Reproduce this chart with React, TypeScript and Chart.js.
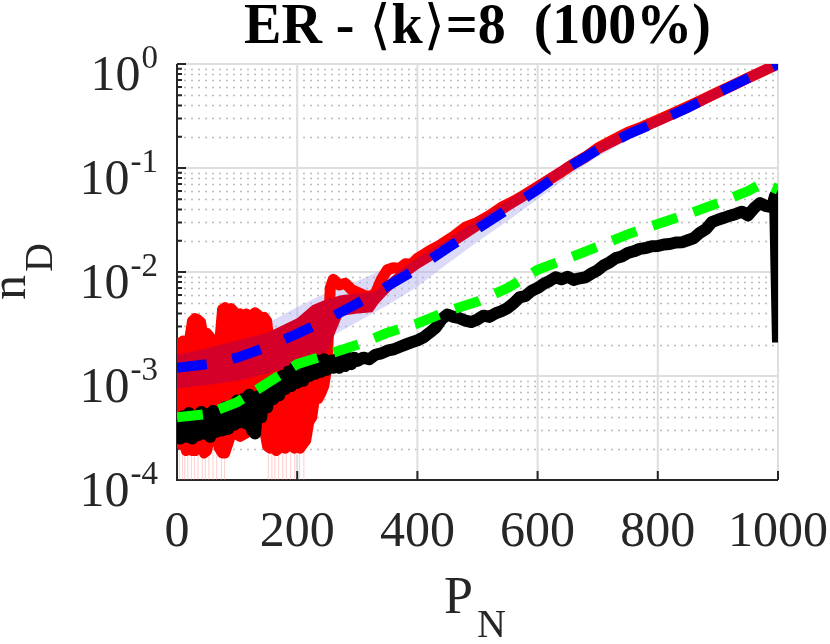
import { useEffect, useRef } from "react";
import { Chart, registerables } from "chart.js";

Chart.register(...registerables);

const SERIF = "'Liberation Serif', 'Times New Roman', serif";
const TEXT = "#262626";

const titleParts = [
  { t: "ER - ", bracket: false },
  { t: "\u27E8", bracket: true },
  { t: "k", bracket: false },
  { t: "\u27E9", bracket: true },
  { t: "=8  (100%)", bracket: false },
];
const xTicks = [0, 200, 400, 600, 800, 1000];
const yTickExps = [-4, -3, -2, -1, 0];
const minorSteps = [2, 3, 4, 5, 6, 7, 8, 9];

// theory curve (blue dashed) and its shaded spread
const pSmooth = [0, 50, 100, 150, 200, 250, 300, 350, 400, 450, 500, 550, 600, 650, 700, 750, 800, 850, 900, 950, 1000];
const blueTheory = [1.2e-3, 1.3e-3, 1.5e-3, 1.9e-3, 2.55e-3, 3.5e-3, 5.0e-3, 7.3e-3, 1.08e-2, 1.7e-2, 2.6e-2, 4.0e-2, 6.2e-2, 0.1, 0.15, 0.21, 0.28, 0.38, 0.53, 0.73, 1.0];
const bandHi = [1.8e-3, 2.0e-3, 2.4e-3, 3.2e-3, 4.6e-3, 6.4e-3, 8.2e-3, 1.1e-2, 1.5e-2, 2.2e-2, 3.2e-2, 4.8e-2, 7.2e-2, 0.113, 0.168, 0.232, 0.305, 0.41, 0.56, 0.76, 1.02];
const bandLo = [8.0e-4, 8.7e-4, 1.0e-3, 1.27e-3, 1.7e-3, 2.3e-3, 3.3e-3, 4.8e-3, 7.2e-3, 1.2e-2, 1.95e-2, 3.1e-2, 5.0e-2, 8.3e-2, 0.128, 0.185, 0.25, 0.345, 0.49, 0.69, 0.97];

// green dashed curve
const pGreen = [0, 50, 100, 150, 200, 250, 300, 350, 400, 450, 500, 550, 600, 650, 700, 750, 800, 850, 900, 950, 975, 1000];
const greenVals = [4.0e-4, 4.3e-4, 5.6e-4, 8.5e-4, 1.3e-3, 1.6e-3, 2.0e-3, 2.6e-3, 3.2e-3, 4.2e-3, 5.2e-3, 7.0e-3, 1.05e-2, 1.35e-2, 1.75e-2, 2.3e-2, 2.9e-2, 3.6e-2, 4.6e-2, 6.0e-2, 7.2e-2, 6.2e-2];

// black run
const pBlack = [
  0, 5, 10, 15, 20, 25, 30, 35, 40, 45, 50, 55, 60, 65, 70, 75, 80, 85, 90, 95,
  100, 105, 110, 115, 120, 125, 130, 135, 140, 145, 150, 155, 160, 165, 170, 175, 180, 185, 190, 195,
  200, 205, 210, 215, 220, 225, 230, 235, 240, 245, 250, 255, 260, 265, 270, 275, 280, 285, 290, 295,
  300, 310, 320, 330, 340, 350, 360, 370, 380, 390,
  400, 410, 420, 430, 440, 450, 460, 470, 480, 490,
  500, 510, 520, 530, 540, 550, 560, 570, 580, 590,
  600, 610, 620, 630, 640, 650, 660, 670, 680, 690,
  700, 710, 720, 730, 740, 750, 760, 770, 780, 790,
  800, 810, 820, 830, 840, 850, 860, 870, 880, 890,
  900, 910, 920, 930, 940, 950, 960, 970, 980, 990,
  995, 1000,
];
const blackVals = [
  4.3e-4, 2.5e-4, 4.1e-4, 2.6e-4, 4.4e-4, 2.5e-4, 4.0e-4, 2.7e-4, 4.5e-4, 2.8e-4,
  4.3e-4, 2.6e-4, 4.6e-4, 2.9e-4, 4.4e-4, 3.0e-4, 5.0e-4, 3.1e-4, 5.2e-4, 3.4e-4,
  5.8e-4, 3.6e-4, 6.0e-4, 3.5e-4, 6.6e-4, 3.0e-4, 2.8e-4, 6.4e-4, 4.0e-4, 6.8e-4,
  5.0e-4, 8.0e-4, 6.0e-4, 9.2e-4, 6.5e-4, 1.0e-3, 7.5e-4, 1.1e-3, 8.0e-4, 1.2e-3,
  8.6e-4, 1.25e-3, 9.0e-4, 1.3e-3, 1.0e-3, 1.35e-3, 1.05e-3, 1.4e-3, 1.1e-3, 1.45e-3,
  1.15e-3, 1.4e-3, 1.2e-3, 1.45e-3, 1.2e-3, 1.45e-3, 1.25e-3, 1.5e-3, 1.3e-3, 1.5e-3,
  1.4e-3, 1.5e-3, 1.45e-3, 1.6e-3, 1.65e-3, 1.75e-3, 1.8e-3, 1.9e-3, 2.0e-3, 2.1e-3,
  2.2e-3, 2.35e-3, 2.6e-3, 2.9e-3, 3.5e-3, 3.9e-3, 3.7e-3, 3.6e-3, 3.4e-3, 3.3e-3,
  3.5e-3, 3.8e-3, 3.7e-3, 4.0e-3, 4.2e-3, 4.5e-3, 5.0e-3, 5.7e-3, 5.9e-3, 6.6e-3,
  7.0e-3, 7.7e-3, 8.2e-3, 8.9e-3, 8.5e-3, 9.0e-3, 8.4e-3, 8.7e-3, 8.9e-3, 9.7e-3,
  1.04e-2, 1.16e-2, 1.24e-2, 1.36e-2, 1.41e-2, 1.52e-2, 1.58e-2, 1.67e-2, 1.7e-2, 1.77e-2,
  1.78e-2, 1.84e-2, 1.86e-2, 1.92e-2, 1.93e-2, 2.02e-2, 2.12e-2, 2.38e-2, 2.58e-2, 3.02e-2,
  3.18e-2, 3.32e-2, 3.48e-2, 3.62e-2, 3.8e-2, 3.5e-2, 4.1e-2, 4.6e-2, 4.3e-2, 4.2e-2,
  5.4e-2, 2.1e-3,
];

// red single run: at small P_N it fluctuates between these upper and lower limits
const pRedNoisy = [
  0, 5, 10, 15, 20, 25, 30, 35, 40, 45, 50, 55, 60, 65, 70, 75, 80, 85, 90, 95,
  100, 105, 110, 115, 120, 125, 130, 135, 140, 145, 150, 155, 160, 165, 170, 175, 180, 185, 190, 195,
  200, 205, 210, 215, 220, 225, 230, 235, 240, 245, 250,
];
const redUpper = [
  2.1e-3, 2.0e-3, 2.2e-3, 2.0e-3, 2.2e-3, 3.4e-3, 3.6e-3, 3.5e-3, 3.3e-3, 2.2e-3,
  2.6e-3, 2.4e-3, 1.9e-3, 1.8e-3, 2.0e-3, 4.4e-3, 4.6e-3, 4.3e-3, 4.5e-3, 4.2e-3,
  3.9e-3, 4.0e-3, 3.8e-3, 4.0e-3, 3.6e-3, 3.9e-3, 4.1e-3, 3.9e-3, 3.6e-3, 3.7e-3,
  3.4e-3, 1.8e-3, 2.0e-3, 2.2e-3, 2.1e-3, 2.4e-3, 2.3e-3, 2.5e-3, 2.4e-3, 2.6e-3,
  2.7e-3, 2.8e-3, 2.7e-3, 3.0e-3, 2.9e-3, 3.0e-3, 3.2e-3, 3.3e-3, 3.2e-3, 3.5e-3,
  3.4e-3,
];
const redLower = [
  2.3e-4, 2.2e-4, 2.4e-4, 1.9e-4, 2.0e-4, 1.9e-4, 1.9e-4, 2.4e-4, 2.2e-4, 1.8e-4,
  1.9e-4, 2.6e-4, 2.7e-4, 2.6e-4, 2.0e-4, 1.8e-4, 1.8e-4, 2.2e-4, 2.7e-4, 2.8e-4,
  2.7e-4, 2.6e-4, 2.7e-4, 2.8e-4, 3.2e-4, 3.3e-4, 3.4e-4, 3.3e-4, 3.4e-4, 3.0e-4,
  2.1e-4, 2.0e-4, 2.1e-4, 1.9e-4, 2.0e-4, 2.1e-4, 2.0e-4, 2.1e-4, 2.2e-4, 2.0e-4,
  2.1e-4, 2.0e-4, 2.2e-4, 2.4e-4, 3.6e-4, 4.0e-4, 6.5e-4, 6.0e-4, 6.8e-4, 8.0e-4,
  1.2e-3,
];
// red single run beyond the noisy part
const pRedTail = [
  250, 255, 260, 270, 280, 290, 300, 310, 320, 330, 340, 350, 360, 370, 380, 390, 400,
  420, 440, 460, 480, 500, 520, 540, 560, 580, 600, 620, 640, 660, 680, 700,
  725, 750, 775, 800, 825, 850, 875, 900, 925, 950, 975, 1000,
];
const redTail = [
  1.4e-3, 7.0e-3, 8.5e-3, 7.5e-3, 7.8e-3, 6.8e-3, 6.4e-3, 6.0e-3, 5.8e-3, 6.2e-3, 8.5e-3, 1.05e-2, 1.1e-2, 1.08e-2, 1.2e-2, 1.18e-2, 1.35e-2,
  1.6e-2, 1.85e-2, 2.2e-2, 2.7e-2, 3.0e-2, 3.5e-2, 4.2e-2, 4.8e-2, 5.6e-2, 6.6e-2, 7.8e-2, 9.2e-2, 0.11, 0.128, 0.155,
  0.185, 0.22, 0.25, 0.29, 0.335, 0.39, 0.455, 0.535, 0.625, 0.735, 0.855, 1.0,
];
// faint drops of the red run towards zero
const pRedDrops = [4, 9, 13, 18, 24, 29, 35, 42, 47, 53, 60, 66, 74, 79, 152, 158, 163, 169, 176, 182, 189, 196, 204, 211];
const redDropTop = [2.3e-4, 2.1e-4, 2.2e-4, 2.0e-4, 2.1e-4, 2.0e-4, 2.2e-4, 1.9e-4, 2.0e-4, 2.4e-4, 2.1e-4, 2.5e-4, 2.0e-4, 2.2e-4, 2.1e-4, 2.0e-4, 2.1e-4, 2.0e-4, 2.1e-4, 2.0e-4, 2.2e-4, 2.0e-4, 2.1e-4, 2.3e-4];
const dropFloor = 1e-6;

// crimson mean curve and its spread at small P_N
const pCrimson = [0, 50, 100, 150, 200, 250, 275, 300, 325, 350, 375, 400, 450, 500, 550, 600, 650, 700, 750, 800, 850, 900, 950, 1000];
const crimsonVals = [1.1e-3, 1.25e-3, 1.4e-3, 1.65e-3, 2.2e-3, 3.0e-3, 4.8e-3, 5.0e-3, 5.1e-3, 7.2e-3, 9.5e-3, 1.2e-2, 1.8e-2, 2.8e-2, 4.3e-2, 6.5e-2, 0.102, 0.151, 0.212, 0.282, 0.382, 0.532, 0.732, 1.0];
const pCrimsonBand = [0, 50, 100, 150, 200, 225, 250, 275, 300, 325, 350];
const crimsonHi = [1.6e-3, 1.85e-3, 2.2e-3, 2.6e-3, 3.6e-3, 4.8e-3, 5.5e-3, 6.0e-3, 6.2e-3, 6.4e-3, 7.6e-3];
const crimsonLo = [7.6e-4, 8.2e-4, 9.0e-4, 1.05e-3, 1.3e-3, 1.5e-3, 1.7e-3, 3.8e-3, 4.0e-3, 4.1e-3, 6.6e-3];

const RED = "#ff0000";
const CRIMSON = "#d4002a";

const pts = (xs: number[], ys: number[]) => xs.map((x, i) => ({ x, y: ys[i] }));

const matlabAxes = {
  id: "matlabAxes",
  beforeDatasetsDraw(chart: any) {
    const { ctx, chartArea: a, scales } = chart;
    const xs = scales.x;
    const ys = scales.y;
    const hline = (y: number) => {
      ctx.beginPath();
      ctx.moveTo(a.left, y);
      ctx.lineTo(a.right, y);
      ctx.stroke();
    };
    ctx.save();
    // minor grid (dotted)
    ctx.strokeStyle = "#bdbdbd";
    ctx.lineWidth = 1.5;
    ctx.setLineDash([2, 5]);
    yTickExps.slice(0, -1).forEach((e) => {
      minorSteps.forEach((m) => hline(Math.round(ys.getPixelForValue(m * Math.pow(10, e))) + 0.5));
    });
    // major grid
    ctx.setLineDash([]);
    ctx.strokeStyle = "#dedede";
    ctx.lineWidth = 2;
    yTickExps.forEach((e) => hline(ys.getPixelForValue(Math.pow(10, e))));
    xTicks.forEach((v) => {
      const x = xs.getPixelForValue(v);
      ctx.beginPath();
      ctx.moveTo(x, a.top);
      ctx.lineTo(x, a.bottom);
      ctx.stroke();
    });
    // axes and ticks
    ctx.strokeStyle = "#262626";
    ctx.lineWidth = 2;
    ctx.beginPath();
    ctx.moveTo(a.left, a.top);
    ctx.lineTo(a.left, a.bottom);
    ctx.lineTo(a.right, a.bottom);
    ctx.stroke();
    ctx.beginPath();
    yTickExps.forEach((e, k) => {
      const y = ys.getPixelForValue(Math.pow(10, e));
      ctx.moveTo(a.left, y);
      ctx.lineTo(a.left + 9, y);
      if (k < yTickExps.length - 1) {
        minorSteps.forEach((m) => {
          const ym = ys.getPixelForValue(m * Math.pow(10, e));
          ctx.moveTo(a.left, ym);
          ctx.lineTo(a.left + 5, ym);
        });
      }
    });
    xTicks.forEach((v) => {
      const x = xs.getPixelForValue(v);
      ctx.moveTo(x, a.bottom);
      ctx.lineTo(x, a.bottom - 9);
    });
    ctx.stroke();
    ctx.restore();
  },
  afterDraw(chart: any) {
    const { ctx, chartArea: a, scales } = chart;
    const xs = scales.x;
    const ys = scales.y;
    ctx.save();
    ctx.textBaseline = "alphabetic";

    // title, built from parts so the angle brackets can be thin
    ctx.fillStyle = "#000";
    const fontFor = (bracket: boolean) => (bracket ? `54px 'DejaVu Sans', sans-serif` : `bold 56px ${SERIF}`);
    let total = 0;
    const widths = titleParts.map((p) => {
      ctx.font = fontFor(p.bracket);
      const w = ctx.measureText(p.t).width + (p.bracket ? 2 : 0);
      total += w;
      return w;
    });
    let tx = (a.left + a.right) / 2 - total / 2;
    ctx.textAlign = "left";
    titleParts.forEach((p, i) => {
      ctx.font = fontFor(p.bracket);
      ctx.fillText(p.t, tx + (p.bracket ? 1 : 0), 43);
      tx += widths[i];
    });

    // x tick labels
    ctx.fillStyle = TEXT;
    ctx.textAlign = "center";
    ctx.font = `50px ${SERIF}`;
    xTicks.forEach((v) => ctx.fillText(String(v), xs.getPixelForValue(v), 546));

    // y tick labels 10^e
    const rightEdge = 158;
    yTickExps.forEach((e) => {
      const y = ys.getPixelForValue(Math.pow(10, e));
      const ex = String(e);
      ctx.font = `33px ${SERIF}`;
      const w = ctx.measureText(ex).width;
      ctx.textAlign = "left";
      ctx.fillText(ex, rightEdge - w, y + 4);
      ctx.font = `50px ${SERIF}`;
      ctx.textAlign = "right";
      ctx.fillText("10", rightEdge - w - 1, y + 26);
    });

    // x axis title P_N
    ctx.textAlign = "left";
    ctx.font = `52px ${SERIF}`;
    ctx.fillText("P", 444, 613);
    ctx.font = `40px ${SERIF}`;
    ctx.fillText("N", 477, 637);

    // y axis title n_D
    ctx.translate(25, 300);
    ctx.rotate(-Math.PI / 2);
    ctx.font = `50px ${SERIF}`;
    ctx.fillText("n", 0, 0);
    ctx.font = `40px ${SERIF}`;
    ctx.fillText("D", 28, 27);
    ctx.restore();
  },
};

export default function App() {
  const chartRef = useRef<HTMLCanvasElement>(null);
  const chartInstance = useRef<Chart | null>(null);

  useEffect(() => {
    document.body.style.margin = "0";
    if (!chartRef.current) return;
    const ctx = chartRef.current.getContext("2d");
    if (!ctx) return;

    if (chartInstance.current) chartInstance.current.destroy();

    // each drop: from the run down past the axis, then a gap
    const dropData = pRedDrops.flatMap((x, i) => [
      { x, y: redDropTop[i] },
      { x, y: dropFloor },
      { x, y: null },
    ]);

    chartInstance.current = new Chart(ctx, {
      type: "line",
      data: {
        datasets: [
          {
            label: "red drops",
            data: dropData as any,
            borderColor: "rgba(255, 140, 140, 0.16)",
            borderWidth: 1,
            spanGaps: false,
            order: 14,
          },
          {
            label: "spread lo",
            data: pts(pSmooth, bandLo),
            borderWidth: 0,
            borderColor: "rgba(0,0,0,0)",
            fill: false,
            order: 13,
          },
          {
            label: "spread hi",
            data: pts(pSmooth, bandHi),
            borderWidth: 0,
            borderColor: "rgba(0,0,0,0)",
            backgroundColor: "rgba(175, 175, 240, 0.45)",
            fill: "-1",
            order: 12,
          },
          {
            label: "red lower",
            data: pts(pRedNoisy, redLower),
            borderColor: RED,
            borderWidth: 10,
            borderJoinStyle: "round",
            borderCapStyle: "round",
            fill: false,
            order: 11,
          },
          {
            label: "red upper",
            data: pts(pRedNoisy, redUpper),
            borderColor: RED,
            backgroundColor: RED,
            borderWidth: 10,
            borderJoinStyle: "round",
            borderCapStyle: "round",
            fill: "-1",
            order: 10,
          },
          {
            label: "red run",
            data: pts(pRedTail, redTail),
            borderColor: RED,
            borderWidth: 11,
            borderJoinStyle: "round",
            borderCapStyle: "round",
            order: 9,
          },
          {
            label: "crimson lo",
            data: pts(pCrimsonBand, crimsonLo),
            borderWidth: 0,
            borderColor: "rgba(0,0,0,0)",
            fill: false,
            order: 8,
          },
          {
            label: "crimson hi",
            data: pts(pCrimsonBand, crimsonHi),
            borderWidth: 0,
            borderColor: "rgba(0,0,0,0)",
            backgroundColor: CRIMSON,
            fill: "-1",
            order: 7,
          },
          {
            label: "crimson mean",
            data: pts(pCrimson, crimsonVals),
            borderColor: CRIMSON,
            borderWidth: 10,
            borderJoinStyle: "round",
            order: 6,
          },
          {
            label: "theory",
            data: pts(pSmooth, blueTheory),
            borderColor: "#0000ff",
            borderWidth: 10,
            borderDash: [30, 26],
            borderCapStyle: "butt",
            order: 5,
          },
          {
            label: "black run",
            data: pts(pBlack, blackVals),
            borderColor: "#000000",
            borderWidth: 12,
            borderJoinStyle: "round",
            borderCapStyle: "butt",
            order: 4,
          },
          {
            label: "green",
            data: pts(pGreen, greenVals),
            borderColor: "#00ff00",
            borderWidth: 10,
            borderDash: [26, 17],
            borderCapStyle: "butt",
            order: 3,
          },
        ],
      },
      options: {
        animation: false,
        responsive: false,
        maintainAspectRatio: false,
        layout: { padding: { left: 177, right: 52, top: 64, bottom: 164 } },
        elements: { point: { radius: 0 }, line: { tension: 0 } },
        scales: {
          x: { type: "linear", min: 0, max: 1000, display: false },
          y: { type: "logarithmic", min: 1e-4, max: 1, display: false },
        },
        plugins: {
          legend: { display: false },
          tooltip: { enabled: false },
          title: { display: false },
        },
      },
      plugins: [matlabAxes],
    });

    return () => {
      if (chartInstance.current) {
        chartInstance.current.destroy();
        chartInstance.current = null;
      }
    };
  }, []);

  return (
    <div style={{ width: 830, height: 644 }}>
      <canvas ref={chartRef} width={830} height={644} />
    </div>
  );
}
